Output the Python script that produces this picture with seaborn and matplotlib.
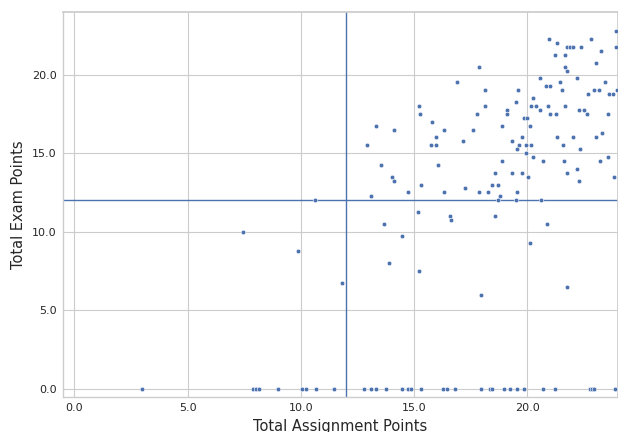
import matplotlib
matplotlib.use("Agg")
import matplotlib.pyplot as plt
import seaborn as sns
import pandas as pd
from matplotlib.ticker import FormatStrFormatter

sns.set_theme(style="whitegrid")
plt.rcParams["font.family"] = ["DejaVu Sans"]

# Students with a non-zero exam score
assignment_scored = [
    23.92, 23.92, 20.96, 21.31, 21.76, 21.86, 22.02, 22.38, 22.82, 21.21,
    21.67, 23.26, 23.05, 21.67, 21.77, 17.87, 20.57, 22.21, 21.42, 23.41,
    16.91, 20.82, 21.02, 21.52, 22.96, 23.17, 23.94, 22.67, 23.60, 23.78,
    18.14, 19.58, 20.24, 19.48, 20.17, 20.36, 20.92, 21.67, 15.21, 18.14,
    19.08, 20.54, 22.29, 22.52, 15.28, 17.77, 19.12, 21.02, 21.27, 22.61,
    23.55, 19.87, 19.98, 13.31, 14.09, 15.78, 16.30, 17.58, 18.87, 20.11,
    12.91, 15.97, 15.75, 15.97, 17.15, 19.30, 19.77, 19.62, 19.92, 20.14,
    19.54, 19.92, 21.32, 22.02, 21.57, 22.32, 23.03, 23.29, 20.26, 20.71,
    21.62, 21.76, 22.17, 22.27, 23.22, 23.55, 23.82, 13.53, 14.01, 14.09,
    13.09, 14.73, 15.29, 16.07, 16.30, 17.25, 17.87, 18.25, 18.87, 18.58,
    19.30, 19.77, 18.42, 18.72, 19.54, 18.81, 18.72, 19.48, 20.62, 20.02,
    15.15, 16.58, 16.63, 18.56, 13.66, 20.85, 14.47, 20.11, 13.91, 15.22,
    11.80, 17.97, 21.76, 7.43, 9.86, 10.64,
]
exam_scored = [
    22.75, 21.76, 22.27, 22.01, 21.76, 21.76, 21.76, 21.76, 22.27, 21.27,
    21.27, 21.50, 20.76, 20.51, 20.25, 20.51, 19.76, 19.76, 19.51, 19.51,
    19.51, 19.26, 19.26, 19.00, 19.00, 19.00, 19.00, 18.75, 18.75, 18.75,
    19.00, 19.00, 18.51, 18.26, 18.00, 18.00, 18.00, 18.00, 18.00, 18.00,
    17.75, 17.75, 17.75, 17.75, 17.50, 17.50, 17.50, 17.50, 17.50, 17.50,
    17.50, 17.26, 17.26, 16.75, 16.50, 17.00, 16.50, 16.50, 16.75, 16.75,
    15.50, 16.00, 15.50, 15.50, 15.75, 15.75, 16.00, 15.50, 15.50, 15.50,
    15.25, 15.00, 16.00, 16.00, 15.50, 15.25, 16.00, 16.25, 14.75, 14.50,
    14.50, 13.75, 14.00, 13.25, 14.50, 14.75, 13.50, 14.25, 13.50, 13.25,
    12.25, 12.50, 13.00, 14.25, 12.50, 12.75, 12.50, 12.50, 14.50, 13.75,
    13.75, 13.75, 13.00, 13.00, 12.50, 12.25, 12.00, 12.00, 12.00, 13.50,
    11.25, 11.00, 10.75, 11.00, 10.50, 10.50, 9.75, 9.25, 8.00, 7.50,
    6.75, 6.00, 6.50, 10.00, 8.75, 12.00,
]

# Students who scored zero on the exam
assignment_zero = [
    3.00, 7.88, 8.01, 8.15, 8.98, 10.07, 10.23, 10.66, 11.48, 12.78,
    13.09, 13.31, 13.76, 14.47, 14.72, 14.85, 15.31, 16.28, 16.47, 16.81,
    17.97, 18.36, 18.45, 18.96, 19.23, 19.54, 19.86, 20.68, 21.21, 22.77,
    22.86, 22.95, 23.85,
]
exam_zero = [0.0] * len(assignment_zero)

# Pass thresholds
assignment_cutoff = 12
exam_cutoff = 12

df = pd.DataFrame({
    "Total Assignment Points": assignment_scored + assignment_zero,
    "Total Exam Points": exam_scored + exam_zero,
})

fig = plt.figure(figsize=(6.18, 4.32), dpi=100)
W, H = 618, 432
left, right, top, bottom = 63, 618, 11.7, 396.7
ax = fig.add_axes([left / W, 1 - bottom / H, (right - left) / W, (bottom - top) / H])

blue = "#4C72B0"
sns.scatterplot(data=df, x="Total Assignment Points", y="Total Exam Points",
                ax=ax, s=11, color=blue, edgecolor="white", linewidth=0.4,
                zorder=3)
ax.axvline(assignment_cutoff, color=blue, lw=1.0, zorder=2)
ax.axhline(exam_cutoff, color=blue, lw=1.0, zorder=2)

ax.set_xlim(-0.5, 24.0)
ax.set_ylim(-0.5, 24.0)
ax.set_xticks([0, 5, 10, 15, 20])
ax.set_yticks([0, 5, 10, 15, 20])
ax.xaxis.set_major_formatter(FormatStrFormatter("%.1f"))
ax.yaxis.set_major_formatter(FormatStrFormatter("%.1f"))
ax.tick_params(axis="both", labelsize=8, length=0, pad=4.5, colors="#262626")
ax.set_xlabel("Total Assignment Points", fontsize=10.5, color="#262626", labelpad=4)
ax.set_ylabel("Total Exam Points", fontsize=10.5, color="#262626", labelpad=4)
ax.grid(True, color="#cccccc", lw=0.8)
for side in ["left", "bottom"]:
    ax.spines[side].set_color("#cccccc")
    ax.spines[side].set_linewidth(1.0)

fig.savefig("out.png", dpi=100)
